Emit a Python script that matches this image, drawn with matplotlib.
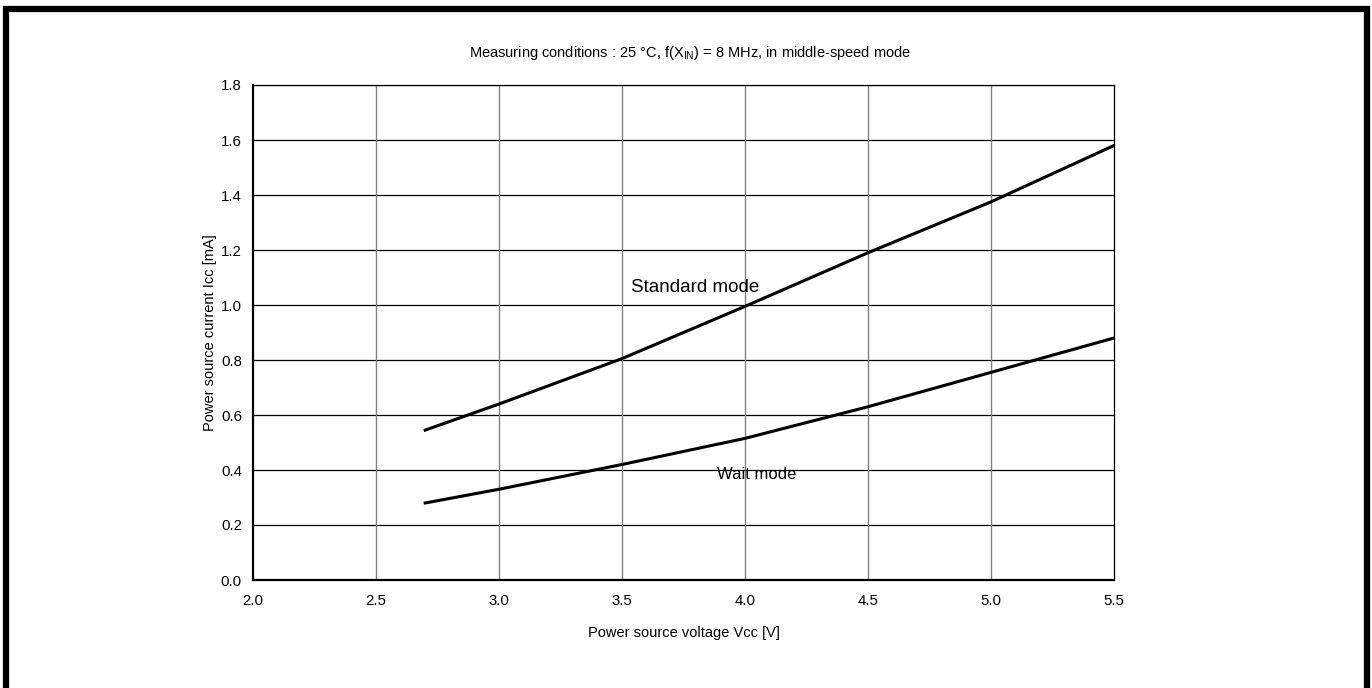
import matplotlib.pyplot as plt
from matplotlib.patches import Rectangle

# Data.
vcc = [2.7, 3.0, 3.5, 4.0, 4.5, 5.0, 5.5]
icc_standard = [0.545, 0.64, 0.805, 0.995, 1.19, 1.375, 1.58]
icc_wait = [0.28, 0.33, 0.42, 0.515, 0.63, 0.755, 0.88]

x_ticks = [2.0, 2.5, 3.0, 3.5, 4.0, 4.5, 5.0, 5.5]
y_ticks = [0.0, 0.2, 0.4, 0.6, 0.8, 1.0, 1.2, 1.4, 1.6, 1.8]

plt.rcParams['font.family'] = ['Liberation Sans', 'DejaVu Sans']

W, H = 1372, 688
fig = plt.figure(figsize=(W / 100, H / 100), dpi=100)
ax = fig.add_axes([253 / W, 1 - 580 / H, (1114 - 253) / W, (580 - 85) / H])

# Grid: black horizontal lines, gray vertical lines.
for y in y_ticks[1:]:
    ax.axhline(y, color='black', lw=0.9, zorder=1)
for x in x_ticks[1:-1]:
    ax.axvline(x, color='#808080', lw=1.0, zorder=1)

ax.plot(vcc, icc_standard, color='black', lw=2.2, zorder=3)
ax.plot(vcc, icc_wait, color='black', lw=2.2, zorder=3)

ax.text(3.535, 1.065, 'Standard mode', fontsize=13.5, va='center', ha='left', zorder=4)
ax.text(3.885, 0.382, 'Wait mode', fontsize=12, va='center', ha='left', zorder=4)

ax.set_xlim(2.0, 5.5)
ax.set_ylim(0.0, 1.8)
ax.set_xticks(x_ticks)
ax.set_yticks(y_ticks)
ax.set_xticklabels([f'{v:.1f}' for v in x_ticks], fontsize=10.8)
ax.set_yticklabels([f'{v:.1f}' for v in y_ticks], fontsize=10.8)
ax.tick_params(axis='y', length=0, pad=8)
ax.tick_params(axis='x', length=0, pad=10)

for side in ['left', 'bottom']:
    ax.spines[side].set_linewidth(1.6)
for side in ['top', 'right']:
    ax.spines[side].set_linewidth(0.9)

ax.set_xlabel('Power source voltage Vcc [V]', fontsize=10.5, labelpad=13)
ax.set_ylabel('Power source current Icc [mA]', fontsize=10.5, labelpad=3)

fig.text(690 / W, 1 - 53 / H,
         'Measuring conditions : 25 \u00b0C, f(X$_{\\mathregular{IN}}$) = 8 MHz, in middle-speed mode',
         fontsize=10.5, ha='center', va='center')

# Outer black frame (open at the bottom, as in the reference).
fig.patches.append(Rectangle((6 / W, -0.05), (1367 - 6) / W, 1 - 6 / H + 0.05 - 3 / H,
                             transform=fig.transFigure, fill=False,
                             edgecolor='black', lw=4.5, zorder=10))

fig.savefig('out.png', dpi=100)
